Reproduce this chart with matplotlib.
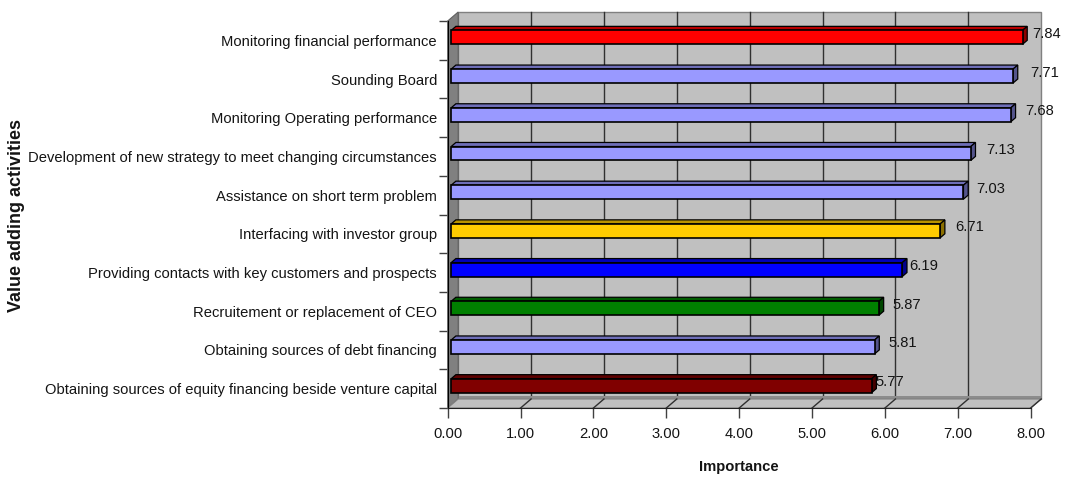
import numpy as np
import matplotlib
matplotlib.use('Agg')
import matplotlib.pyplot as plt
from matplotlib.patches import Polygon
from matplotlib.colors import to_rgb

plt.rcParams['font.family'] = ['Liberation Sans', 'DejaVu Sans']

# activities listed top to bottom
activities = [
    'Monitoring financial performance',
    'Sounding Board',
    'Monitoring Operating performance',
    'Development of new strategy to meet changing circumstances',
    'Assistance on short term problem',
    'Interfacing with investor group',
    'Providing contacts with key customers and prospects',
    'Recruitement or replacement of CEO',
    'Obtaining sources of debt financing',
    'Obtaining sources of equity financing beside venture capital',
]
importance = [7.84, 7.71, 7.68, 7.13, 7.03, 6.71, 6.19, 5.87, 5.81, 5.77]
bar_colors = ['#FF0000', '#9999FF', '#9999FF', '#9999FF', '#9999FF',
              '#FFCC00', '#0000FF', '#008000', '#9999FF', '#800000']
x_ticks = [0, 1, 2, 3, 4, 5, 6, 7, 8]

# horizontal nudge of each value label (pixels)
label_nudge = [10, 17, 14, 15, 13, 15, 7, 14, 14, 4]

W, H, DPI = 1065, 479, 100
FS = 10.6
TXT = '#141414'
fig = plt.figure(figsize=(W / DPI, H / DPI), dpi=DPI)
ax = fig.add_axes([447.7 / W, (H - 408) / H, 583 / W, 387 / H])
ax.set_xlim(0, 8)
ax.set_ylim(0, 10)
ax.patch.set_visible(False)

n = len(activities)
DX, DY = 0.144, 0.2326      # depth of the box in data units
d0, bd = 0.33, 0.45         # bar position / thickness along depth
hh = 0.18                   # half bar height

def poly(pts, fc, ec='none', lw=0.0, z=1):
    ax.add_patch(Polygon(pts, closed=True, facecolor=fc, edgecolor=ec,
                         linewidth=lw, zorder=z, clip_on=False))

# walls and floor
poly([(DX, DY), (8 + DX, DY), (8 + DX, 10 + DY), (DX, 10 + DY)], '#C0C0C0', '#808080', 1.0, 1)
for k in x_ticks[1:-1]:
    ax.plot([k + DX, k + DX], [DY, 10 + DY], color='#303030', lw=1.0, zorder=2, clip_on=False)
poly([(DX, DY), (8 + DX, DY), (8 + DX, DY + 0.075), (DX, DY + 0.075)], '#8C8C8C', z=2)
poly([(0, 0), (DX, DY), (DX, 10 + DY), (0, 10)], '#808080', '#606060', 0.8, 3)
poly([(0, 0), (8, 0), (8 + DX, DY), (DX, DY)], '#C0C0C0', '#808080', 0.8, 3)
for k in x_ticks[1:]:
    ax.plot([k, k + DX], [0, DY], color='#303030', lw=1.0, zorder=4, clip_on=False)

# 3d-looking bars
for j, (v, c) in enumerate(zip(importance, bar_colors)):
    i = n - 1 - j
    yc = i + 0.5 + d0 * DY
    x0 = d0 * DX
    x1 = v + d0 * DX
    rgb = np.array(to_rgb(c))
    ox, oy = bd * DX, bd * DY
    poly([(x0, yc + hh), (x0 + ox, yc + hh + oy), (x1 + ox, yc + hh + oy), (x1, yc + hh)],
         rgb * 0.72, 'black', 0.9, 5)
    poly([(x1, yc - hh), (x1 + ox, yc - hh + oy), (x1 + ox, yc + hh + oy), (x1, yc + hh)],
         rgb * 0.55, 'black', 0.9, 5)
    ax.barh(yc, v, height=2 * hh, left=x0, color=c, edgecolor='black',
            linewidth=1.2, zorder=6, clip_on=False)
    ax.annotate(f'{v:.2f}', xy=(x1, yc), xytext=(label_nudge[j] * 0.72, 3.5 * 0.72),
                textcoords='offset points', ha='left', va='center',
                fontsize=FS, color=TXT, zorder=7)

# axes
for side in ['top', 'right']:
    ax.spines[side].set_visible(False)
ax.spines['left'].set_zorder(8)
ax.spines['bottom'].set_zorder(8)
ax.spines['left'].set_color('black')
ax.spines['bottom'].set_color('#202020')

ax.set_yticks(np.arange(n) + 0.5)
ax.set_yticklabels(activities[::-1], fontsize=FS, color=TXT)
ax.set_yticks(np.arange(n + 1), minor=True)
ax.tick_params(axis='y', which='major', length=0, pad=7.7)
ax.tick_params(axis='y', which='minor', length=6.5, width=1, color='#404040')

ax.set_xticks(x_ticks)
ax.set_xticklabels([f'{t:.2f}' for t in x_ticks], fontsize=FS, color=TXT)
ax.tick_params(axis='x', length=7.2, width=1, color='#404040', pad=6.5)

fig.text(17 / W, 1 - 215 / H, 'Value adding activities', rotation=90,
         ha='center', va='center', fontsize=13, fontweight='bold', color=TXT)
fig.text(739 / W, 1 - 467 / H, 'Importance', ha='center', va='center',
         fontsize=FS, fontweight='bold', color=TXT)

fig.savefig('out.png', dpi=DPI)
